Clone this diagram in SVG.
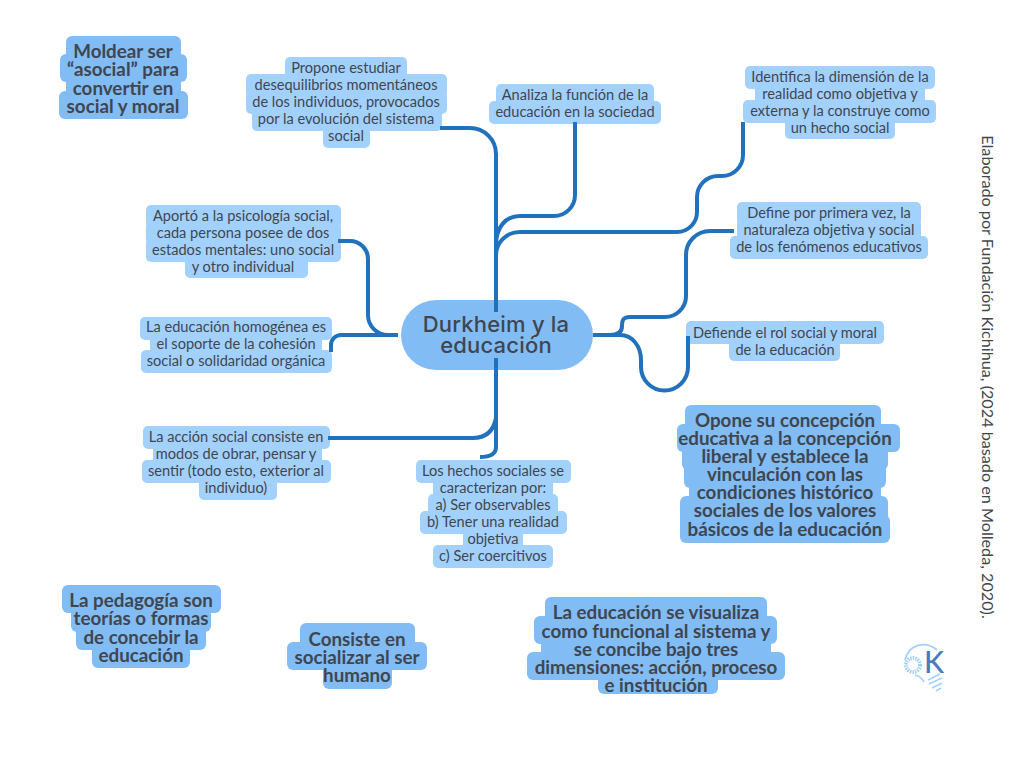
<svg xmlns="http://www.w3.org/2000/svg" width="1024" height="768" viewBox="0 0 1024 768">
<style>
.l{fill:#a3d1fe}
.d{fill:#82bcf5}
text{font-family:"Lato","Liberation Sans",sans-serif;fill:#3f4650;text-anchor:middle}
.t{font-size:14.6px}
.b{font-size:18.8px;font-weight:700}
.c{font-family:"Inter","Liberation Sans",sans-serif;font-size:22px;font-weight:500;letter-spacing:.2px}
.conn{fill:none;stroke:#2271bd;stroke-width:4}
</style>
<rect width="1024" height="768" fill="#fff"/>
<g id="n-moldear">
<rect class="d" x="66" y="36" width="115" height="28" rx="6"/><rect class="d" x="60" y="54" width="127" height="28" rx="6"/><rect class="d" x="66" y="72" width="115" height="28" rx="6"/><rect class="d" x="59" y="91" width="129" height="28" rx="6"/>
<text class="b"><tspan x="123" y="58">Moldear ser</tspan><tspan x="123" y="76">“asocial” para</tspan><tspan x="123" y="95">convertir en</tspan><tspan x="123" y="113">social y moral</tspan></text>
</g>
<g id="n-propone">
<rect class="l" x="285" y="57" width="122" height="23" rx="5"/><rect class="l" x="246" y="74" width="201" height="23" rx="5"/><rect class="l" x="246" y="91" width="201" height="23" rx="5"/><rect class="l" x="252" y="108" width="190" height="23" rx="5"/><rect class="l" x="323" y="125" width="47" height="23" rx="5"/>
<text class="t"><tspan x="346" y="73">Propone estudiar</tspan><tspan x="346" y="90">desequilibrios momentáneos</tspan><tspan x="346" y="107">de los individuos, provocados</tspan><tspan x="346" y="124">por la evolución del sistema</tspan><tspan x="346" y="141">social</tspan></text>
</g>
<g id="n-analiza">
<rect class="l" x="496" y="84" width="158" height="23" rx="5"/><rect class="l" x="489" y="101" width="172" height="23" rx="5"/>
<text class="t"><tspan x="575" y="100">Analiza la función de la</tspan><tspan x="575" y="117">educación en la sociedad</tspan></text>
</g>
<g id="n-identifica">
<rect class="l" x="745" y="66" width="190" height="23" rx="5"/><rect class="l" x="755" y="83" width="170" height="23" rx="5"/><rect class="l" x="743" y="100" width="193" height="23" rx="5"/><rect class="l" x="785" y="116" width="110" height="23" rx="5"/>
<text class="t"><tspan x="840" y="82">Identifica la dimensión de la</tspan><tspan x="840" y="99">realidad como objetiva y</tspan><tspan x="840" y="116">externa y la construye como</tspan><tspan x="840" y="133">un hecho social</tspan></text>
</g>
<g id="n-define">
<rect class="l" x="737" y="202" width="184" height="23" rx="5"/><rect class="l" x="737" y="219" width="184" height="23" rx="5"/><rect class="l" x="730" y="236" width="198" height="23" rx="5"/>
<text class="t"><tspan x="829" y="218">Define por primera vez, la</tspan><tspan x="829" y="235">naturaleza objetiva y social</tspan><tspan x="829" y="252">de los fenómenos educativos</tspan></text>
</g>
<g id="n-defiende">
<rect class="l" x="686" y="321" width="198" height="23" rx="5"/><rect class="l" x="729" y="338" width="111" height="23" rx="5"/>
<text class="t"><tspan x="785" y="338">Defiende el rol social y moral</tspan><tspan x="785" y="355">de la educación</tspan></text>
</g>
<g id="n-aporto">
<rect class="l" x="146" y="205" width="195" height="23" rx="5"/><rect class="l" x="146" y="222" width="195" height="23" rx="5"/><rect class="l" x="146" y="239" width="195" height="23" rx="5"/><rect class="l" x="185" y="255" width="123" height="23" rx="5"/>
<text class="t"><tspan x="243" y="221">Aportó a la psicología social,</tspan><tspan x="243" y="238">cada persona posee de dos</tspan><tspan x="243" y="255">estados mentales: uno social</tspan><tspan x="243" y="272">y otro individual</tspan></text>
</g>
<g id="n-homogenea">
<rect class="l" x="140" y="317" width="192" height="23" rx="5"/><rect class="l" x="150" y="334" width="172" height="23" rx="5"/><rect class="l" x="141" y="350" width="191" height="23" rx="5"/>
<text class="t"><tspan x="236" y="332">La educación homogénea es</tspan><tspan x="236" y="349">el soporte de la cohesión</tspan><tspan x="236" y="366">social o solidaridad orgánica</tspan></text>
</g>
<g id="n-accion">
<rect class="l" x="143" y="426" width="187" height="23" rx="5"/><rect class="l" x="153" y="443" width="169" height="23" rx="5"/><rect class="l" x="142" y="460" width="189" height="23" rx="5"/><rect class="l" x="199" y="477" width="78" height="23" rx="5"/>
<text class="t"><tspan x="236" y="442">La acción social consiste en</tspan><tspan x="236" y="459">modos de obrar, pensar y</tspan><tspan x="236" y="476">sentir (todo esto, exterior al</tspan><tspan x="236" y="493">individuo)</tspan></text>
</g>
<g id="n-hechos">
<rect class="l" x="416" y="460" width="155" height="23" rx="5"/><rect class="l" x="433" y="477" width="120" height="23" rx="5"/><rect class="l" x="428" y="494" width="130" height="23" rx="5"/><rect class="l" x="420" y="511" width="147" height="23" rx="5"/><rect class="l" x="463" y="528" width="60" height="23" rx="5"/><rect class="l" x="433" y="545" width="120" height="23" rx="5"/>
<text class="t"><tspan x="493" y="476">Los hechos sociales se</tspan><tspan x="493" y="493">caracterizan por:</tspan><tspan x="493" y="510">a) Ser observables</tspan><tspan x="493" y="527">b) Tener una realidad</tspan><tspan x="493" y="544">objetiva</tspan><tspan x="493" y="561">c) Ser coercitivos</tspan></text>
</g>
<g id="n-opone">
<rect class="d" x="685" y="405" width="196" height="28" rx="6"/><rect class="d" x="677" y="424" width="223" height="28" rx="6"/><rect class="d" x="682" y="442" width="206" height="28" rx="6"/><rect class="d" x="684" y="460" width="202" height="28" rx="6"/><rect class="d" x="689" y="478" width="192" height="28" rx="6"/><rect class="d" x="680" y="496" width="208" height="28" rx="6"/><rect class="d" x="680" y="515" width="210" height="28" rx="6"/>
<text class="b"><tspan x="785" y="427">Opone su concepción</tspan><tspan x="785" y="445">educativa a la concepción</tspan><tspan x="785" y="463">liberal y establece la</tspan><tspan x="785" y="481">vinculación con las</tspan><tspan x="785" y="499">condiciones histórico</tspan><tspan x="785" y="517">sociales de los valores</tspan><tspan x="785" y="536">básicos de la educación</tspan></text>
</g>
<g id="n-pedagogia">
<rect class="d" x="62" y="585" width="159" height="28" rx="6"/><rect class="d" x="71" y="604" width="140" height="28" rx="6"/><rect class="d" x="76" y="622" width="130" height="28" rx="6"/><rect class="d" x="92" y="640" width="98" height="28" rx="6"/>
<text class="b"><tspan x="141" y="607">La pedagogía son</tspan><tspan x="141" y="625">teorías o formas</tspan><tspan x="141" y="644">de concebir la</tspan><tspan x="141" y="662">educación</tspan></text>
</g>
<g id="n-consiste">
<rect class="d" x="300" y="623" width="115" height="28" rx="6"/><rect class="d" x="287" y="642" width="140" height="28" rx="6"/><rect class="d" x="323" y="661" width="69" height="28" rx="6"/>
<text class="b"><tspan x="357" y="646">Consiste en</tspan><tspan x="357" y="664">socializar al ser</tspan><tspan x="357" y="682">humano</tspan></text>
</g>
<g id="n-visualiza">
<rect class="d" x="545" y="597" width="222" height="28" rx="6"/><rect class="d" x="534" y="616" width="243" height="28" rx="6"/><rect class="d" x="541" y="634" width="230" height="28" rx="6"/><rect class="d" x="527" y="652" width="258" height="28" rx="6"/><rect class="d" x="598" y="671" width="120" height="23" rx="6"/>
<text class="b"><tspan x="656" y="619">La educación se visualiza</tspan><tspan x="656" y="638">como funcional al sistema y</tspan><tspan x="656" y="656">se concibe bajo tres</tspan><tspan x="656" y="674">dimensiones: acción, proceso</tspan><tspan x="656" y="692">e institución</tspan></text>
</g>
<g id="n-central">
<rect class="d" x="401" y="300" width="192" height="70" rx="35"/>
<text class="c"><tspan x="496" y="332">Durkheim y la</tspan><tspan x="496" y="353">educación</tspan></text>
</g>
<g id="connectors" class="conn">
<path d="M440 128H470A26 26 0 0 1 496 154V312"/>
<path d="M575 122V195A21 21 0 0 1 554 216H520C505 216 496 228 496 245"/>
<path d="M743 122V155A21 21 0 0 1 722 176H718A21 21 0 0 0 697 197V212A20 20 0 0 1 677 232H520C505 232 496 244 496 255"/>
<path d="M734 231H710A24 24 0 0 0 686 255V296A21 21 0 0 1 665 317H630C622 317 622 322 622 326C622 332 618 335 610 335"/>
<path d="M593 335H620C633 335 641 347 641 360V367A23.500 23.500 0 0 0 688 367V336"/>
<path d="M338 241H350A18 18 0 0 1 368 259V315A20 20 0 0 0 388 335H398"/>
<path d="M331 352V345A10 10 0 0 1 341 335H398"/>
<path d="M496 358V447Q496 457 480 457"/>
<path d="M328 438H473Q492 438 496 418"/>
</g>
<text x="0" y="0" transform="translate(982 377) rotate(90)" style="font-size:16.200px">Elaborado por Fundación Kichihua, (2024 basado en Molleda, 2020).</text>
<g id="logo" fill="none">
<path d="M905 660C908 645 925 640 937 650" stroke="#a3d1fe" stroke-width="1.800"/>
<path d="M915 675Q922 677 924 682" stroke="#a3d1fe" stroke-width="1.800"/>
<circle cx="913" cy="665" r="7" stroke="#a3d1fe" stroke-width="4" stroke-dasharray="1.500 1"/>
<path d="M928 680L940 674M929 684L942 678M932 688L942 683M936 691L941 688" stroke="#a3d1fe" stroke-width="1.500"/>
<text x="934" y="673" style="font-size:30px;font-weight:500;fill:#4a7cbc">K</text>
</g>
</svg>
